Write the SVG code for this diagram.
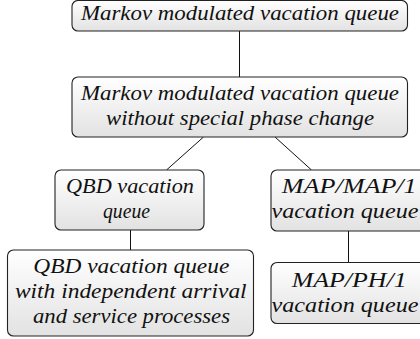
<svg xmlns="http://www.w3.org/2000/svg" width="420" height="339" viewBox="0 0 420 339">
<defs>
<linearGradient id="g" x1="0" y1="0" x2="0" y2="1">
<stop offset="0" stop-color="#ffffff"/>
<stop offset="1" stop-color="#e2e2e2"/>
</linearGradient>
</defs>
<style>
.box{fill:url(#g);stroke:#222;stroke-width:1.1}
.t{font-family:"Liberation Serif","DejaVu Serif",serif;font-style:italic;font-size:20px;fill:#111;text-anchor:middle}
.c{stroke:#111;stroke-width:1;fill:none}
</style>
<g id="connectors">
<line class="c" x1="239.5" y1="31" x2="239.5" y2="77"/>
<line class="c" x1="203.5" y1="137" x2="166.5" y2="170"/>
<line class="c" x1="275" y1="137" x2="311.5" y2="170"/>
<line class="c" x1="130.5" y1="230" x2="130.5" y2="250"/>
<line class="c" x1="348.5" y1="231" x2="348.5" y2="262.5"/>
</g>
<g id="n1">
<rect class="box" x="72" y="0.5" width="335.5" height="30.5" rx="6"/>
<text class="t" x="240" y="19.5" textLength="318" lengthAdjust="spacingAndGlyphs">Markov modulated vacation queue</text>
</g>
<g id="n2">
<rect class="box" x="72" y="77" width="335.5" height="60" rx="6"/>
<text class="t" x="240" y="100" textLength="318" lengthAdjust="spacingAndGlyphs">Markov modulated vacation queue</text>
<text class="t" x="240" y="125" textLength="268" lengthAdjust="spacingAndGlyphs">without special phase change</text>
</g>
<g id="n3">
<rect class="box" x="55" y="170" width="149" height="60" rx="6"/>
<text class="t" x="130" y="193" textLength="128" lengthAdjust="spacingAndGlyphs">QBD vacation</text>
<text class="t" x="126.5" y="218" textLength="47" lengthAdjust="spacingAndGlyphs">queue</text>
</g>
<g id="n4">
<rect class="box" x="7.5" y="250" width="246" height="86" rx="6"/>
<text class="t" x="131.3" y="273.3" textLength="196" lengthAdjust="spacingAndGlyphs">QBD vacation queue</text>
<text class="t" x="130.8" y="298.3" textLength="231.7" lengthAdjust="spacingAndGlyphs">with independent arrival</text>
<text class="t" x="131.5" y="323.3" textLength="197" lengthAdjust="spacingAndGlyphs">and service processes</text>
</g>
<g id="n5">
<rect class="box" x="271" y="170" width="156" height="61" rx="6"/>
<text class="t" x="349.2" y="193.3" textLength="135" lengthAdjust="spacingAndGlyphs">MAP/MAP/1</text>
<text class="t" x="345" y="218.3" textLength="147" lengthAdjust="spacingAndGlyphs">vacation queue</text>
</g>
<g id="n6">
<rect class="box" x="271" y="262.5" width="156" height="61" rx="6"/>
<text class="t" x="349.2" y="286.7" textLength="115" lengthAdjust="spacingAndGlyphs">MAP/PH/1</text>
<text class="t" x="345" y="311.7" textLength="147" lengthAdjust="spacingAndGlyphs">vacation queue</text>
</g>
</svg>
